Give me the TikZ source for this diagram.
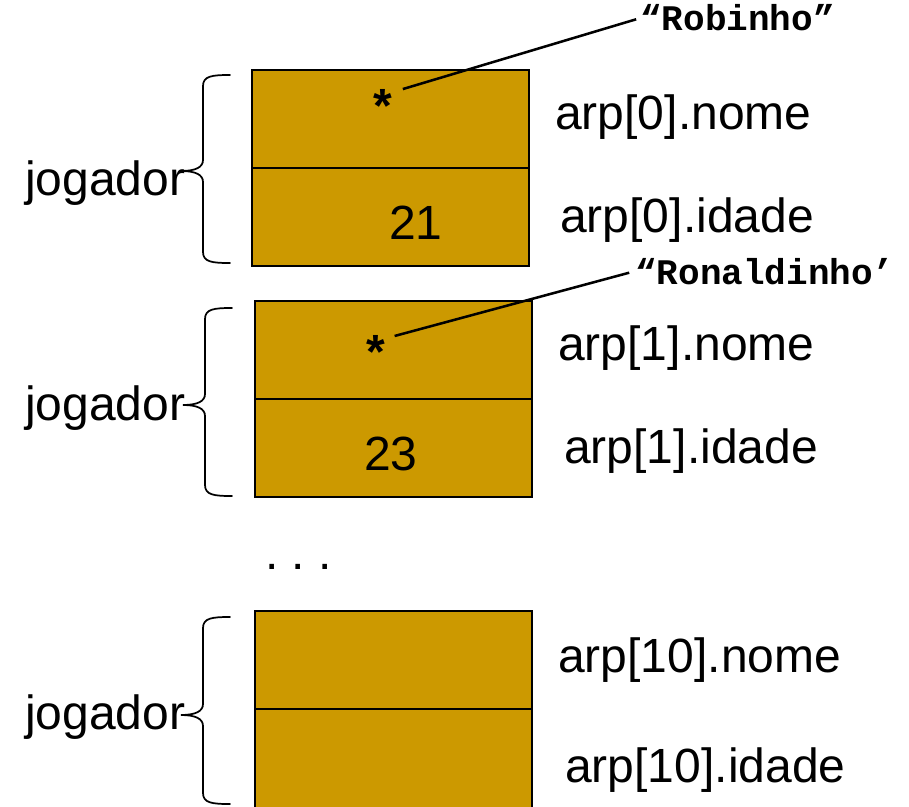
\documentclass[tikz,border=0pt]{standalone}
\usepackage{fontspec}
\setmainfont{Liberation Sans}
\newfontfamily\codefont{Liberation Mono}
\definecolor{cellfill}{RGB}{204,153,0}

\begin{document}
\begin{tikzpicture}[x=0.75pt,y=-0.75pt,
  cell/.style={draw=black,fill=cellfill,line width=1.5pt,inner sep=0pt,anchor=north west},
  lbl/.style={inner sep=0pt,anchor=base west,font=\fontsize{36}{40}\selectfont},
  val/.style={inner sep=0pt,anchor=base,font=\fontsize{36}{40}\selectfont},
  % the star node's centre sits on the middle of the glyph
  star/.style={inner sep=0pt,anchor=center,text height=41.8pt,text depth=0pt,
    font=\bfseries\fontsize{36}{40}\selectfont},
  strlbl/.style={inner sep=0pt,anchor=base west,font=\codefont\bfseries\fontsize{27}{30}\selectfont},
  curly/.style={line width=1.3pt,line cap=round},
  ptr/.style={line width=1.9pt}]

\useasboundingbox (0,0) rectangle (909,806);

% first record: arp[0]
\node[cell,minimum width=207.75pt,minimum height=73.5pt] (n0) at (251,69) {};
\node[cell,minimum width=207.75pt,minimum height=73.5pt] (i0) at (251,167) {};
\node[star] (s0) at (383,95) {*};
\node[val] (v0) at (416,239) {21};
\node[strlbl] (r0) at (640,31) {“Robinho”};
\draw[ptr,shorten <=8pt,shorten >=3pt] (s0) -- (r0.west);
\node[lbl] (ln0) at (555,130) {arp[0].nome};
\node[lbl] (li0) at (560,232) {arp[0].idade};
\node[lbl] (j0) at (25,195) {jogador};
\draw[curly] (230,75) .. controls (212,75) and (203,76) .. (203,86) -- (203,160)
  .. controls (203,167) and (196,171) .. (181,171)
  .. controls (196,171) and (203,175) .. (203,182) -- (203,252)
  .. controls (203,262) and (212,263) .. (230,263);

% second record: arp[1]
\node[cell,minimum width=207.75pt,minimum height=73.5pt] (n1) at (254,300) {};
\node[cell,minimum width=207.75pt,minimum height=73.5pt] (i1) at (254,398) {};
\node[star] (s1) at (376,341) {*};
\node[val] (v1) at (391,470) {23};
\node[strlbl] (r1) at (635,284) {“Ronaldinho’};
\draw[ptr,shorten <=7pt,shorten >=4.5pt] (s1) -- (r1.west);
\node[lbl] (ln1) at (558,360) {arp[1].nome};
\node[lbl] (li1) at (564,463) {arp[1].idade};
\node[lbl] (j1) at (25,420) {jogador};
\draw[curly] (232,308) .. controls (214,308) and (205,309) .. (205,319) -- (205,394)
  .. controls (205,401) and (198,405) .. (183,405)
  .. controls (198,405) and (205,409) .. (205,416) -- (205,485)
  .. controls (205,495) and (214,496) .. (232,496);

% elided records
\node[lbl] (dots) at (265,569) {.\kern10pt.\kern10pt.};

% last record: arp[10]
\node[cell,minimum width=207.75pt,minimum height=73.5pt] (n2) at (254,610) {};
\node[cell,minimum width=207.75pt,minimum height=78pt] (i2) at (254,708) {};
\node[lbl] (ln2) at (558,672) {arp[10].nome};
\node[lbl] (li2) at (565,782) {arp[10].idade};
\node[lbl] (j2) at (25,729) {jogador};
\draw[curly] (230,617) .. controls (212,617) and (203,618) .. (203,628) -- (203,704)
  .. controls (203,711) and (196,715) .. (181,715)
  .. controls (196,715) and (203,719) .. (203,726) -- (203,793)
  .. controls (203,803) and (212,804) .. (230,804);
\end{tikzpicture}
\end{document}
